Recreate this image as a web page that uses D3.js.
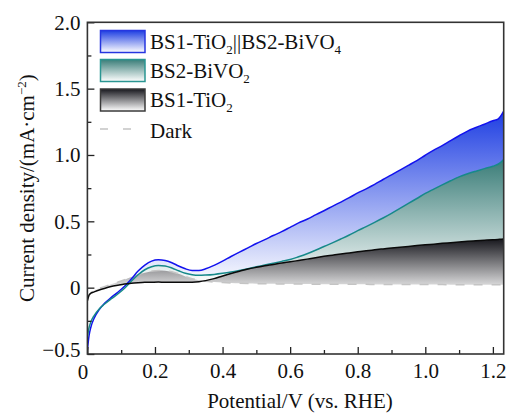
<!DOCTYPE html>
<html>
<head>
<meta charset="utf-8">
<script src="https://cdn.jsdelivr.net/npm/d3@7/dist/d3.min.js"></script>
<style>
  html, body { margin: 0; padding: 0; background: #fff; }
  svg { display: block; }
  text { font-family: "Liberation Serif", "Times New Roman", serif; fill: #111; }
</style>
</head>
<body>
<svg id="chart" width="507" height="414"></svg>
<script>
// ---------- data ----------
const potential = [0, 0.005, 0.01, 0.02, 0.035, 0.05, 0.07, 0.09, 0.11, 0.13, 0.15, 0.17, 0.19, 0.21, 0.23, 0.25, 0.27, 0.29, 0.31, 0.33, 0.35, 0.375, 0.4, 0.425, 0.45, 0.475, 0.5,
  0.525, 0.55, 0.575, 0.6, 0.625, 0.65, 0.675, 0.7, 0.725, 0.75, 0.775, 0.8, 0.825, 0.85, 0.875, 0.9, 0.925, 0.95, 0.975, 1.0, 1.025, 1.05, 1.075, 1.1, 1.125, 1.15, 1.175, 1.2,
  1.215, 1.225, 1.232];

const tandem = [-0.47, -0.36, -0.3, -0.23, -0.165, -0.12, -0.075, -0.035, 0.01, 0.065, 0.125, 0.17, 0.2, 0.21, 0.205, 0.188, 0.163, 0.142, 0.13, 0.13, 0.142, 0.168, 0.2, 0.235, 0.268, 0.3, 0.333,
  0.362, 0.393, 0.422, 0.455, 0.488, 0.516, 0.548, 0.58, 0.613, 0.645, 0.678, 0.714, 0.745, 0.778, 0.815, 0.85, 0.886, 0.922, 0.958, 0.998, 1.036, 1.07, 1.108, 1.145, 1.18, 1.207, 1.232, 1.258,
  1.27, 1.3, 1.33];

const bivo = [-0.37, -0.3, -0.26, -0.21, -0.16, -0.125, -0.085, -0.048, -0.005, 0.048, 0.097, 0.135, 0.158, 0.167, 0.163, 0.148, 0.127, 0.108, 0.097, 0.093, 0.095, 0.1, 0.108, 0.118, 0.13, 0.143, 0.157,
  0.17, 0.184, 0.198, 0.212, 0.233, 0.256, 0.282, 0.31, 0.338, 0.367, 0.397, 0.43, 0.46, 0.492, 0.525, 0.56, 0.597, 0.635, 0.672, 0.71, 0.743, 0.775, 0.806, 0.835, 0.858, 0.878, 0.897, 0.915,
  0.93, 0.948, 0.965];

const tio2 = [-0.1, -0.055, -0.042, -0.032, -0.018, -0.006, 0.008, 0.018, 0.027, 0.033, 0.037, 0.04, 0.041, 0.042, 0.041, 0.041, 0.04, 0.04, 0.041, 0.045, 0.053, 0.068, 0.088, 0.107, 0.124, 0.14, 0.153,
  0.165, 0.175, 0.186, 0.195, 0.205, 0.215, 0.226, 0.236, 0.245, 0.254, 0.262, 0.27, 0.278, 0.285, 0.292, 0.299, 0.305, 0.311, 0.317, 0.323, 0.328, 0.334, 0.339, 0.344, 0.349, 0.353, 0.357, 0.361,
  0.363, 0.365, 0.366];

const dark = [-0.09, -0.06, -0.04, -0.02, -0.005, 0.008, 0.025, 0.042, 0.06, 0.08, 0.098, 0.113, 0.124, 0.13, 0.128, 0.12, 0.104, 0.085, 0.068, 0.056, 0.048, 0.042, 0.038, 0.035, 0.033, 0.031, 0.03,
  0.029, 0.029, 0.028, 0.028, 0.027, 0.027, 0.026, 0.026, 0.026, 0.025, 0.025, 0.025, 0.025, 0.024, 0.024, 0.024, 0.024, 0.023, 0.023, 0.023, 0.023, 0.023, 0.022, 0.022, 0.022, 0.022, 0.022, 0.022,
  0.022, 0.022, 0.022];

const xTicks = [0, 0.2, 0.4, 0.6, 0.8, 1.0, 1.2];
const xTickLabels = ["0", "0.2", "0.4", "0.6", "0.8", "1.0", "1.2"];
const xMinor = [0.1, 0.3, 0.5, 0.7, 0.9, 1.1];
const yTicks = [-0.5, 0, 0.5, 1.0, 1.5, 2.0];
const yTickLabels = ["\u22120.5", "0", "0.5", "1.0", "1.5", "2.0"];
const yMinor = [-0.25, 0.25, 0.75, 1.25, 1.75];

const seriesNames = ["tandem", "bivo", "tio2"];
const seriesColors = { tandem: "#1212ee", bivo: "#17898a", tio2: "#0a0a0a" };
const gradTop = { tandem: "#1e3ee2", bivo: "#3a7d78", tio2: "#18181e" };
const gradBottom = { tandem: 0.022, bivo: 0.022, tio2: -0.05 };
const legendBorder = { tandem: "#2636e0", bivo: "#2a9692", tio2: "#3a3a3a" };

// ---------- layout ----------
const svg = d3.select("#chart");
const L = 87.4, R = 503.7, T = 22.3, B = 354;
const x = d3.scaleLinear().domain([0, 1.232]).range([L, R]);
const y = d3.scaleLinear().domain([-0.5, 2.0]).range([B, T]);

const rows = potential.map((p, i) => ({ p, tandem: tandem[i], bivo: bivo[i], tio2: tio2[i], dark: dark[i] }));
const vals = { tandem, bivo, tio2 };

const defs = svg.append("defs");
defs.append("clipPath").attr("id", "clip").append("rect")
  .attr("x", L).attr("y", T).attr("width", R - L).attr("height", B - T);

seriesNames.forEach(k => {
  const g = defs.append("linearGradient").attr("id", "g-" + k)
    .attr("gradientUnits", "userSpaceOnUse")
    .attr("x1", 0).attr("x2", 0)
    .attr("y1", y(d3.max(vals[k]))).attr("y2", y(gradBottom[k]));
  g.append("stop").attr("offset", 0).attr("stop-color", gradTop[k]);
  g.append("stop").attr("offset", 1).attr("stop-color", "#ffffff");
  const lg = defs.append("linearGradient").attr("id", "lg-" + k)
    .attr("x1", 0).attr("x2", 0).attr("y1", 0).attr("y2", 1);
  lg.append("stop").attr("offset", 0).attr("stop-color", gradTop[k]);
  lg.append("stop").attr("offset", 1).attr("stop-color", "#ffffff");
});

const plot = svg.append("g").attr("clip-path", "url(#clip)");

// fills between each curve and the dark current
seriesNames.forEach(k => {
  const area = d3.area().curve(d3.curveMonotoneX)
    .x(d => x(d.p)).y0(d => y(d.dark)).y1(d => y(d[k]));
  plot.append("path").datum(rows).attr("d", area)
    .attr("fill", "url(#g-" + k + ")").attr("stroke", "none");
});

// dark line
plot.append("path").datum(rows)
  .attr("d", d3.line().curve(d3.curveMonotoneX).x(d => x(d.p)).y(d => y(d.dark)))
  .attr("fill", "none").attr("stroke", "#c4c4c4").attr("stroke-width", 1.5)
  .attr("stroke-dasharray", "9,9");

// lines
seriesNames.forEach(k => {
  plot.append("path").datum(rows)
    .attr("d", d3.line().curve(d3.curveMonotoneX).x(d => x(d.p)).y(d => y(d[k])))
    .attr("fill", "none").attr("stroke", seriesColors[k]).attr("stroke-width", 1.5)
    .attr("stroke-linejoin", "round");
});

// ---------- axes ----------
const fontSize = 21;
const xAxis = svg.append("g").attr("transform", `translate(0,${B})`)
  .call(d3.axisBottom(x).tickValues(xTicks).tickSize(-7).tickPadding(9)
    .tickFormat((d, i) => xTickLabels[i]));
const xAxisMinor = svg.append("g").attr("transform", `translate(0,${B})`)
  .call(d3.axisBottom(x).tickValues(xMinor).tickSize(-4).tickFormat(""));
const yAxis = svg.append("g").attr("transform", `translate(${L},0)`)
  .call(d3.axisLeft(y).tickValues(yTicks).tickSize(-7).tickPadding(7)
    .tickFormat((d, i) => yTickLabels[i]));
const yAxisMinor = svg.append("g").attr("transform", `translate(${L},0)`)
  .call(d3.axisLeft(y).tickValues(yMinor).tickSize(-4).tickFormat(""));

[xAxis, xAxisMinor, yAxis, yAxisMinor].forEach(a => {
  a.select(".domain").remove();
  a.selectAll("line").attr("stroke", "#222").attr("stroke-width", 1.3);
  a.selectAll("text").attr("font-family", "Liberation Serif, Times New Roman, serif")
    .attr("font-size", fontSize).attr("fill", "#111");
});
xAxis.selectAll("text").filter(d => d === 0).attr("dx", -5).attr("dy", "0.78em");
yAxis.selectAll("text").attr("dy", "0.33em");
yAxis.selectAll("text").filter(d => d === -0.5).attr("dy", "0.12em");

// frame
svg.append("rect").attr("x", L).attr("y", T).attr("width", R - L).attr("height", B - T)
  .attr("fill", "none").attr("stroke", "#333").attr("stroke-width", 1.6);

// axis titles
svg.append("text").attr("x", 300).attr("y", 408).attr("text-anchor", "middle")
  .attr("font-size", fontSize).text("Potential/V (vs. RHE)");

const yt = svg.append("text").attr("transform", `translate(34,${(T + B) / 2}) rotate(-90)`)
  .attr("text-anchor", "middle").attr("font-size", fontSize);
yt.append("tspan").text("Current density/(mA\u00B7cm");
yt.append("tspan").attr("dy", -8).attr("font-size", 13).text("\u22122");
yt.append("tspan").attr("dy", 8).text(")");

// ---------- legend ----------
const legendItems = [
  { k: "tandem", parts: [["BS1-TiO", 0], ["2", 1], ["||BS2-BiVO", 0], ["4", 1]], y0: 30.5 },
  { k: "bivo", parts: [["BS2-BiVO", 0], ["2", 1]], y0: 59.5 },
  { k: "tio2", parts: [["BS1-TiO", 0], ["2", 1]], y0: 89 }
];
const lgd = svg.append("g");
legendItems.forEach(it => {
  lgd.append("rect").attr("x", 100.5).attr("y", it.y0).attr("width", 44.5).attr("height", 22)
    .attr("fill", "url(#lg-" + it.k + ")").attr("stroke", legendBorder[it.k]).attr("stroke-width", 1.5);
  const t = lgd.append("text").attr("x", 150).attr("y", it.y0 + 18).attr("font-size", fontSize);
  let sub = false;
  it.parts.forEach(([s, isSub]) => {
    const ts = t.append("tspan").text(s);
    if (isSub && !sub) { ts.attr("dy", 5).attr("font-size", 13); sub = true; }
    else if (isSub) { ts.attr("font-size", 13); }
    else if (sub) { ts.attr("dy", -5); sub = false; }
  });
});
lgd.append("line").attr("x1", 100).attr("x2", 133).attr("y1", 129).attr("y2", 129)
  .attr("stroke", "#c4c4c4").attr("stroke-width", 1.5).attr("stroke-dasharray", "8,15");
lgd.append("text").attr("x", 150).attr("y", 137.5).attr("font-size", fontSize).text("Dark");
</script>
</body>
</html>
